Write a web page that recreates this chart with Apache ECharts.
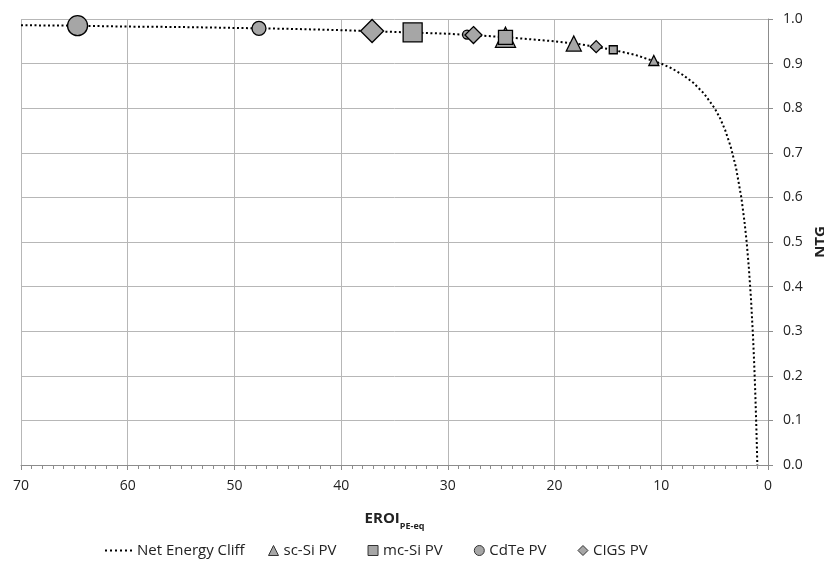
<!DOCTYPE html>
<html>
<head>
<meta charset="utf-8">
<script src="https://cdn.jsdelivr.net/npm/echarts@6/dist/echarts.min.js"></script>
<style>html,body{margin:0;padding:0;background:#fff}#c{width:824px;height:563px}</style>
</head>
<body>
<div id="c"></div>
<script>
// Net Energy Cliff (EROI, NTG)
const cliffEroi = [70, 65, 60, 55, 50, 45, 40, 35, 30, 25, 20, 17.5, 15, 12.5, 10, 9, 8, 7, 6, 5, 4.5, 4, 3.5, 3, 2.5, 2.2, 2, 1.8, 1.6, 1.4, 1.3, 1.2, 1.1, 1.05, 1];
const cliffNtg  = [0.986, 0.985, 0.983, 0.982, 0.98, 0.978, 0.975, 0.971, 0.967, 0.96, 0.95, 0.943, 0.933, 0.92, 0.9, 0.889, 0.875, 0.857, 0.833, 0.8, 0.778, 0.75, 0.714, 0.667, 0.6, 0.545, 0.5, 0.444, 0.375, 0.286, 0.231, 0.167, 0.091, 0.048, 0];

const scSiEroi = [24.6, 18.2, 10.7];
const scSiNtg  = [0.959, 0.945, 0.907];
const mcSiEroi = [33.3, 24.6, 14.5];
const mcSiNtg  = [0.970, 0.959, 0.931];
const cdteEroi = [64.7, 47.7, 28.2];
const cdteNtg  = [0.985, 0.979, 0.965];
const cigsEroi = [37.1, 27.6, 16.1];
const cigsNtg  = [0.973, 0.964, 0.938];

const xTicks = [0, 10, 20, 30, 40, 50, 60, 70];
const seriesNames = ['Net Energy Cliff', 'sc-Si PV', 'mc-Si PV', 'CdTe PV', 'CIGS PV'];

// marker sizes (style)
const markerSize = {
  'sc-Si PV': [20, 15, 10],
  'mc-Si PV': [19, 14, 8],
  'CdTe PV': [20, 14, 9],
  'CIGS PV': [23, 17, 12]
};

const pairs = (xs, ys) => xs.map((x, i) => [x, ys[i]]);
const font = 'Open Sans';
const txt = '#222';
const dotIcon = 'path://M0,0h2v2h-2z M5,0h2v2h-2z M10,0h2v2h-2z M15,0h2v2h-2z M20,0h2v2h-2z M25,0h2v2h-2z';

function pointSeries(name, symbol, xs, ys) {
  const sizes = markerSize[name];
  return {
    name, type: 'scatter', symbol,
    data: pairs(xs, ys),
    symbolSize: (v, p) => sizes[p.dataIndex],
    itemStyle: { color: '#a6a6a6', borderColor: '#000', borderWidth: 1.3, opacity: 1 },
    z: 3
  };
}

const legendText = { fontFamily: font, fontSize: 15, color: txt };
const symItem = (name, icon) => ({ name, icon, itemStyle: { borderColor: '#333', borderWidth: 1 } });

const chart = echarts.init(document.getElementById('c'));
chart.setOption({
  animation: false,
  textStyle: { fontFamily: font },
  grid: { left: 21, right: 56, top: 19, bottom: 98, outerBoundsMode: 'none', containLabel: false },
  legend: [
    {
      data: [{ name: seriesNames[0], icon: dotIcon, itemStyle: { color: '#000', borderWidth: 0 } }],
      top: 538, left: 100,
      itemWidth: 27, itemHeight: 2, itemGap: 0,
      textStyle: legendText
    },
    {
      data: [
        symItem(seriesNames[1], 'triangle'),
        symItem(seriesNames[2], 'rect'),
        symItem(seriesNames[3], 'circle'),
        symItem(seriesNames[4], 'diamond')
      ],
      top: 538, left: 263,
      itemWidth: 10, itemHeight: 10, itemGap: 31, itemTextGap: 10,
      textStyle: legendText
    }
  ],
  xAxis: {
    type: 'value', inverse: true, min: 0, max: 70, interval: 10,
    name: '{a|EROI}{b|PE-eq}',
    nameLocation: 'middle', nameGap: 39,
    nameTextStyle: {
      rich: {
        a: { fontFamily: font, fontSize: 15, fontWeight: 'bold', color: txt, lineHeight: 22, verticalAlign: 'bottom' },
        b: { fontFamily: font, fontSize: 9, fontWeight: 'bold', color: txt, lineHeight: 22, verticalAlign: 'bottom', padding: [0, 0, -5, 0] }
      }
    },
    axisLine: { show: true, onZero: false, lineStyle: { color: '#8c8c8c', width: 1 } },
    axisTick: { show: true, inside: false, length: 5, lineStyle: { color: '#8c8c8c' } },
    minorTick: { show: true, splitNumber: 10, length: 4, lineStyle: { color: '#8c8c8c' } },
    axisLabel: { fontFamily: font, fontSize: 14, color: txt, margin: 14, formatter: v => xTicks.includes(v) ? String(v) : '' },
    splitLine: { show: true, lineStyle: { color: '#b7b7b7', width: 1 } }
  },
  yAxis: {
    type: 'value', position: 'right', min: 0, max: 1, interval: 0.1,
    name: 'NTG', nameLocation: 'middle', nameRotate: 90, nameGap: 40,
    nameTextStyle: { fontFamily: font, fontSize: 15, fontWeight: 'bold', color: txt },
    axisLine: { show: true, lineStyle: { color: '#8c8c8c', width: 1 } },
    axisTick: { show: true, inside: false, length: 5, lineStyle: { color: '#8c8c8c' } },
    axisLabel: { fontFamily: font, fontSize: 14, color: txt, margin: 15, formatter: v => v.toFixed(1) },
    splitLine: { show: true, lineStyle: { color: '#b7b7b7', width: 1 } }
  },
  series: [
    {
      name: seriesNames[0], type: 'line', data: pairs(cliffEroi, cliffNtg),
      symbol: 'none', smooth: false,
      lineStyle: { color: '#000', width: 2, type: [2, 2.5], cap: 'butt' },
      itemStyle: { color: '#000' },
      z: 2
    },
    pointSeries(seriesNames[1], 'triangle', scSiEroi, scSiNtg),
    pointSeries(seriesNames[2], 'rect', mcSiEroi, mcSiNtg),
    pointSeries(seriesNames[3], 'circle', cdteEroi, cdteNtg),
    pointSeries(seriesNames[4], 'diamond', cigsEroi, cigsNtg)
  ]
});
</script>
</body>
</html>
